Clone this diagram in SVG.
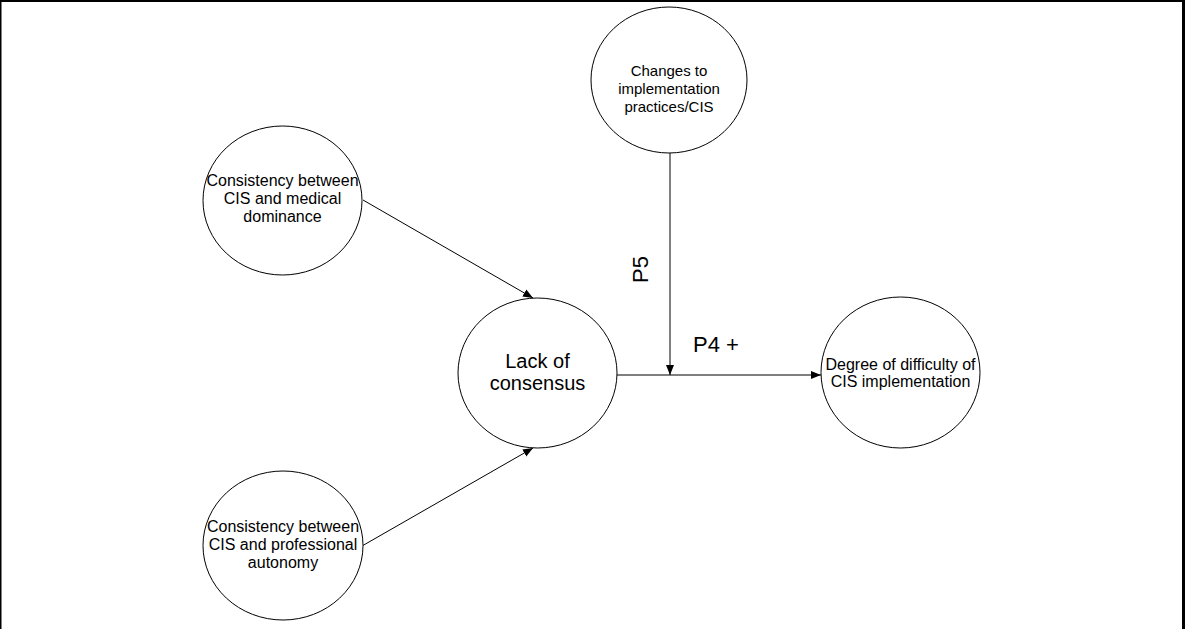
<svg xmlns="http://www.w3.org/2000/svg" width="1185" height="629" viewBox="0 0 1185 629">
<style>
.node ellipse{fill:#fff;stroke:#000;stroke-width:1}
.node text{font-family:"Liberation Sans",Arial,sans-serif;font-size:16px;fill:#000;text-anchor:middle}
.edge{stroke:#000;stroke-width:1;fill:none}
.lbl{font-family:"Liberation Sans",Arial,sans-serif;font-size:22px;fill:#000}
</style>
<defs>
<marker id="arr" viewBox="0 0 10 10" refX="10" refY="5" markerWidth="10" markerHeight="10" markerUnits="userSpaceOnUse" orient="auto">
<path d="M0,1 L10,5 L0,9 Z" fill="#000"/>
</marker>
</defs>
<rect width="1185" height="629" fill="#fff"/>
<g id="border">
<rect x="0" y="0" width="1185" height="2" fill="#000"/>
<rect x="0" y="0" width="1.5" height="629" fill="#000"/>
<rect x="1182" y="0" width="3" height="629" fill="#000"/>
</g>
<g id="connectors">
<line class="edge" x1="363" y1="200" x2="533" y2="298" marker-end="url(#arr)"/>
<line class="edge" x1="362" y1="546" x2="533" y2="448" marker-end="url(#arr)"/>
<line class="edge" x1="617" y1="375" x2="821" y2="375" marker-end="url(#arr)"/>
<line class="edge" x1="670" y1="153" x2="670" y2="375" marker-end="url(#arr)"/>
<text class="lbl" transform="translate(648,283) rotate(-90)">P5</text>
<text class="lbl" x="693" y="352">P4 +</text>
</g>
<g id="node-medical" class="node">
<ellipse cx="282.5" cy="200.5" rx="79.5" ry="74.5"/>
<text x="282.5" y="186">Consistency between</text>
<text x="282.5" y="204">CIS and medical</text>
<text x="282.5" y="222">dominance</text>
</g>
<g id="node-autonomy" class="node">
<ellipse cx="283" cy="545.5" rx="80" ry="74.5"/>
<text x="283" y="532">Consistency between</text>
<text x="283" y="550">CIS and professional</text>
<text x="283" y="568">autonomy</text>
</g>
<g id="node-consensus" class="node">
<ellipse cx="537.5" cy="373" rx="79.5" ry="75"/>
<text x="537.5" y="368" style="font-size:20px">Lack of</text>
<text x="537.5" y="390" style="font-size:20px">consensus</text>
</g>
<g id="node-changes" class="node">
<ellipse cx="669" cy="80" rx="78" ry="73"/>
<text x="669" y="76" style="font-size:15px">Changes to</text>
<text x="669" y="94" style="font-size:15px">implementation</text>
<text x="669" y="112" style="font-size:15px">practices/CIS</text>
</g>
<g id="node-difficulty" class="node">
<ellipse cx="900.5" cy="372.5" rx="79.5" ry="75.5"/>
<text x="900.5" y="370">Degree of difficulty of</text>
<text x="900.5" y="387">CIS implementation</text>
</g>
</svg>
